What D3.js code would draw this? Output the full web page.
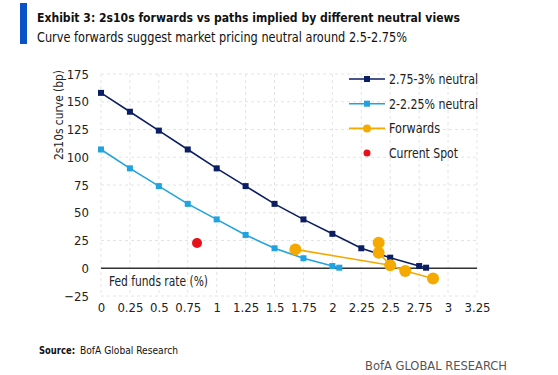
<!DOCTYPE html>
<html>
<head>
<meta charset="utf-8">
<script src="https://cdn.jsdelivr.net/npm/d3@7"></script>
<style>
  body { margin: 0; background: #fff; }
  text { font-family: "DejaVu Sans Condensed", "Liberation Sans", sans-serif; }
</style>
</head>
<body>
<svg id="chart" width="558" height="375"></svg>
<script>
// data
const xTicks = [0, 0.25, 0.5, 0.75, 1, 1.25, 1.5, 1.75, 2, 2.25, 2.5, 2.75, 3, 3.25];
const yTicks = [-25, 0, 25, 50, 75, 100, 125, 150, 175];

const highX = [0, 0.25, 0.5, 0.75, 1, 1.25, 1.5, 1.75, 2, 2.25, 2.5, 2.75, 2.81];
const highY = [158, 141, 124, 107, 90, 74, 58, 44, 31, 18, 9.5, 2, 0.5];

const lowX = [0, 0.25, 0.5, 0.75, 1, 1.25, 1.5, 1.75, 2, 2.06];
const lowY = [107, 90, 74, 58, 44, 30, 18, 9, 2, 0.5];

// forwards: dots, and the two drawn paths through them
const fwdX = [1.68, 2.40, 2.40, 2.50, 2.63, 2.87];
const fwdY = [17, 23, 14, 2.7, -2.4, -9.3];
const fwdPathA = [0, 3, 4, 5];
const fwdPathB = [1, 2, 3];

const spotX = [0.83];
const spotY = [22.8];

const legendItems = ["2.75-3% neutral", "2-2.25% neutral", "Forwards", "Current Spot"];
const legendWidths = [89, 89, 51, 69];

const navy = "#0c1e63", cyan = "#21a3df", orange = "#f4aa00", red = "#e8101a";

const svg = d3.select("#chart");

const x = d3.scaleLinear().domain([0, 3.25]).range([101, 477]);
const y = d3.scaleLinear().domain([-25, 175]).range([296, 74]);

function fitText(sel, w) {
  sel.attr("textLength", w).attr("lengthAdjust", "spacingAndGlyphs");
}

// title block
svg.append("rect").attr("x", 20).attr("y", 3).attr("width", 7).attr("height", 41).attr("fill", "#0a52c9");
svg.append("text").attr("x", 37).attr("y", 22)
  .attr("font-size", 13).attr("font-weight", "bold").attr("fill", "#111")
  .text("Exhibit 3: 2s10s forwards vs paths implied by different neutral views")
  .call(fitText, 423);
svg.append("text").attr("x", 37).attr("y", 42)
  .attr("font-size", 14).attr("fill", "#111")
  .text("Curve forwards suggest market pricing neutral around 2.5-2.75%")
  .call(fitText, 370);

// grid
const grid = svg.append("g").attr("stroke", "#e4e4e4").attr("stroke-dasharray", "3,3");
grid.selectAll(".gx").data(xTicks).enter().append("line")
  .attr("x1", d => x(d)).attr("x2", d => x(d)).attr("y1", y(175)).attr("y2", y(-25));
grid.selectAll(".gy").data(yTicks).enter().append("line")
  .attr("x1", x(0)).attr("x2", x(3.25)).attr("y1", d => y(d)).attr("y2", d => y(d));

// zero line
svg.append("line").attr("x1", x(0)).attr("x2", x(3.25)).attr("y1", y(0)).attr("y2", y(0))
  .attr("stroke", "#333").attr("stroke-width", 1.5);

// axes
const yAxis = d3.axisLeft(y).tickValues(yTicks).tickSize(0).tickPadding(12);
svg.append("g").attr("transform", "translate(" + x(0) + ",0)").call(yAxis)
  .call(g => g.select(".domain").remove())
  .selectAll("text").attr("font-size", 13).attr("fill", "#222").attr("font-family", null);

const xAxis = d3.axisBottom(x).tickValues(xTicks).tickSize(0).tickPadding(0)
  .tickFormat(d => String(d));
svg.append("g").attr("transform", "translate(0,303)").call(xAxis)
  .call(g => g.select(".domain").remove())
  .selectAll("text").attr("font-size", 13).attr("fill", "#222").attr("font-family", null);

svg.append("text").attr("x", 109).attr("y", 286).attr("font-size", 14).attr("fill", "#222")
  .text("Fed funds rate (%)").call(fitText, 99);
svg.append("text").attr("transform", "translate(63,115) rotate(-90)")
  .attr("text-anchor", "middle").attr("font-size", 13).attr("fill", "#222")
  .text("2s10s curve (bp)").call(fitText, 90);

// series
const line = d3.line().x(d => x(d[0])).y(d => y(d[1]));
const high = highX.map((v, i) => [v, highY[i]]);
const low = lowX.map((v, i) => [v, lowY[i]]);
const fwd = fwdX.map((v, i) => [v, fwdY[i]]);

svg.append("path").datum(high).attr("d", line).attr("fill", "none").attr("stroke", navy).attr("stroke-width", 1.6);
svg.selectAll(".mh").data(high).enter().append("rect")
  .attr("x", d => x(d[0]) - 3).attr("y", d => y(d[1]) - 3).attr("width", 6).attr("height", 6).attr("fill", navy);

svg.append("path").datum(low).attr("d", line).attr("fill", "none").attr("stroke", cyan).attr("stroke-width", 1.6);
svg.selectAll(".ml").data(low).enter().append("rect")
  .attr("x", d => x(d[0]) - 3).attr("y", d => y(d[1]) - 3).attr("width", 6).attr("height", 6).attr("fill", cyan);

[fwdPathA, fwdPathB].forEach(idx => {
  svg.append("path").datum(idx.map(i => fwd[i])).attr("d", line)
    .attr("fill", "none").attr("stroke", orange).attr("stroke-width", 1.6);
});
svg.selectAll(".mf").data(fwd).enter().append("circle")
  .attr("cx", d => x(d[0])).attr("cy", d => y(d[1])).attr("r", 6).attr("fill", orange);

svg.selectAll(".ms").data(spotX.map((v, i) => [v, spotY[i]])).enter().append("circle")
  .attr("cx", d => x(d[0])).attr("cy", d => y(d[1])).attr("r", 5).attr("fill", red);

// legend
const colors = [navy, cyan, orange, red];
const lg = svg.append("g").attr("transform", "translate(349,79)");
legendItems.forEach((name, i) => {
  const g = lg.append("g").attr("transform", "translate(0," + i * 24.7 + ")");
  if (i < 3) g.append("line").attr("x1", 0).attr("x2", 36).attr("stroke", colors[i]).attr("stroke-width", 1.6);
  if (i < 2) g.append("rect").attr("x", 15).attr("y", -3).attr("width", 6).attr("height", 6).attr("fill", colors[i]);
  else g.append("circle").attr("cx", 18).attr("r", i === 2 ? 4 : 3.5).attr("fill", colors[i]);
  g.append("text").attr("x", 40).attr("y", 5).attr("font-size", 14).attr("fill", "#222")
    .text(name).call(fitText, legendWidths[i]);
});

// footer
svg.append("text").attr("x", 39).attr("y", 354).attr("font-size", 11).attr("font-weight", "bold")
  .attr("fill", "#111").text("Source:").call(fitText, 36);
svg.append("text").attr("x", 80).attr("y", 354).attr("font-size", 11)
  .attr("fill", "#111").text("BofA Global Research").call(fitText, 98);
svg.append("text").attr("x", 507).attr("y", 370).attr("text-anchor", "end")
  .attr("font-size", 11.5).attr("fill", "#555").text("BofA GLOBAL RESEARCH").call(fitText, 142);
</script>
</body>
</html>
